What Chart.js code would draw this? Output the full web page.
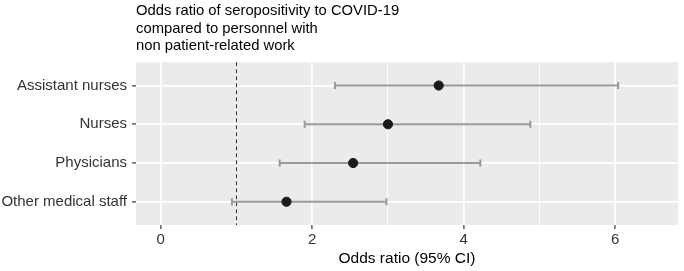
<!DOCTYPE html>
<html>
<head>
<meta charset="utf-8">
<script src="https://cdn.jsdelivr.net/npm/chart.js@4.4.1/dist/chart.umd.min.js"></script>
<style>
  html, body { margin: 0; padding: 0; background: #fff; }
  #wrap { width: 684px; height: 271px; }
</style>
</head>
<body>
<div id="wrap"><canvas id="orChart" width="684" height="271"></canvas></div>
<script>
// Data
const categories = ['Assistant nurses', 'Nurses', 'Physicians', 'Other medical staff'];
const oddsRatio = [3.67, 3.00, 2.54, 1.66];
const ciLower = [2.30, 1.90, 1.57, 0.94];
const ciUpper = [6.04, 4.88, 4.22, 2.98];
const xTickLabels = [0, 2, 4, 6];
const xGridValues = [0, 1, 2, 3, 4, 5, 6];
const refValue = 1;
const titleLines = [
    'Odds ratio of seropositivity to COVID-19',
    'compared to personnel with',
    'non patient-related work'
];
const xAxisTitle = 'Odds ratio (95% CI)';

const FONT = "'Liberation Sans', Arial, Helvetica, sans-serif";

// grey panel behind the plot area (ggplot style)
const panelBackground = {
    id: 'panelBackground',
    beforeDraw(chart) {
        const { ctx, chartArea } = chart;
        ctx.save();
        ctx.fillStyle = '#EBEBEB';
        ctx.fillRect(chartArea.left, chartArea.top, chartArea.right - chartArea.left, chartArea.bottom - chartArea.top);
        ctx.restore();
    }
};

const yMin = 0.4, yMax = categories.length + 0.6;

// one line per CI, with the caps drawn as rotated 'line' points
const ciDatasets = categories.map((cat, i) => ({
    label: cat + ' CI',
    data: [{ x: ciLower[i], y: i + 1 }, { x: ciUpper[i], y: i + 1 }],
    showLine: true,
    borderColor: '#999999',
    borderWidth: 2,
    pointStyle: 'line',
    rotation: 90,
    pointRadius: 3.6,
    pointBorderColor: '#999999',
    pointBorderWidth: 2,
    order: 2
}));

const refLine = {
    label: 'reference',
    data: [{ x: refValue, y: yMin }, { x: refValue, y: yMax }],
    showLine: true,
    borderColor: '#333',
    borderWidth: 1,
    borderDash: [4, 3],
    pointRadius: 0,
    order: 3
};

const pointSet = {
    label: 'Odds ratio',
    data: categories.map((cat, i) => ({ x: oddsRatio[i], y: i + 1 })),
    backgroundColor: '#1A1A1A',
    borderColor: '#1A1A1A',
    pointRadius: 4.6,
    order: 1
};

const ctx = document.getElementById('orChart').getContext('2d');
new Chart(ctx, {
    type: 'scatter',
    data: { datasets: [refLine, ...ciDatasets, pointSet] },
    options: {
        responsive: false,
        devicePixelRatio: 1,
        animation: false,
        clip: false,
        layout: { padding: { left: 0, right: 0, top: 0, bottom: 0 } },
        plugins: {
            legend: { display: false },
            tooltip: { enabled: false },
            title: {
                display: true,
                text: titleLines,
                align: 'start',
                fullSize: false,
                color: '#000',
                font: { family: FONT, size: 14.8, weight: 'normal', lineHeight: 1.2 },
                padding: { top: 2, bottom: 7 }
            }
        },
        scales: {
            x: {
                type: 'linear',
                min: -0.327,
                max: 6.83,
                afterBuildTicks: scale => { scale.ticks = xGridValues.map(v => ({ value: v })); },
                afterFit: scale => { scale.height = 46; },
                border: { display: false },
                grid: {
                    color: '#FFFFFF',
                    lineWidth: c => xTickLabels.includes(c.tick.value) ? 1.8 : 0.9,
                    tickColor: c => xTickLabels.includes(c.tick.value) ? '#333333' : 'rgba(0,0,0,0)',
                    tickLength: 4,
                    tickWidth: 1.2
                },
                ticks: {
                    autoSkip: false,
                    maxRotation: 0,
                    padding: 2,
                    color: '#333333',
                    font: { family: FONT, size: 15 },
                    callback: v => xTickLabels.includes(v) ? String(v) : ''
                },
                title: {
                    display: true,
                    text: xAxisTitle,
                    color: '#000',
                    font: { family: FONT, size: 15.5 },
                    padding: { top: 0, bottom: 2.5 }
                }
            },
            y: {
                type: 'linear',
                reverse: true,
                min: yMin,
                max: yMax,
                afterBuildTicks: scale => { scale.ticks = categories.map((c, i) => ({ value: i + 1 })); },
                afterFit: scale => { scale.width = 136; },
                border: { display: false },
                grid: {
                    color: '#FFFFFF',
                    lineWidth: 1.8,
                    tickColor: '#333333',
                    tickLength: 4,
                    tickWidth: 1.2
                },
                ticks: {
                    autoSkip: false,
                    padding: 5,
                    color: '#333333',
                    font: { family: FONT, size: 15 },
                    callback: v => categories[v - 1] || ''
                }
            }
        }
    },
    plugins: [panelBackground]
});
</script>
</body>
</html>
